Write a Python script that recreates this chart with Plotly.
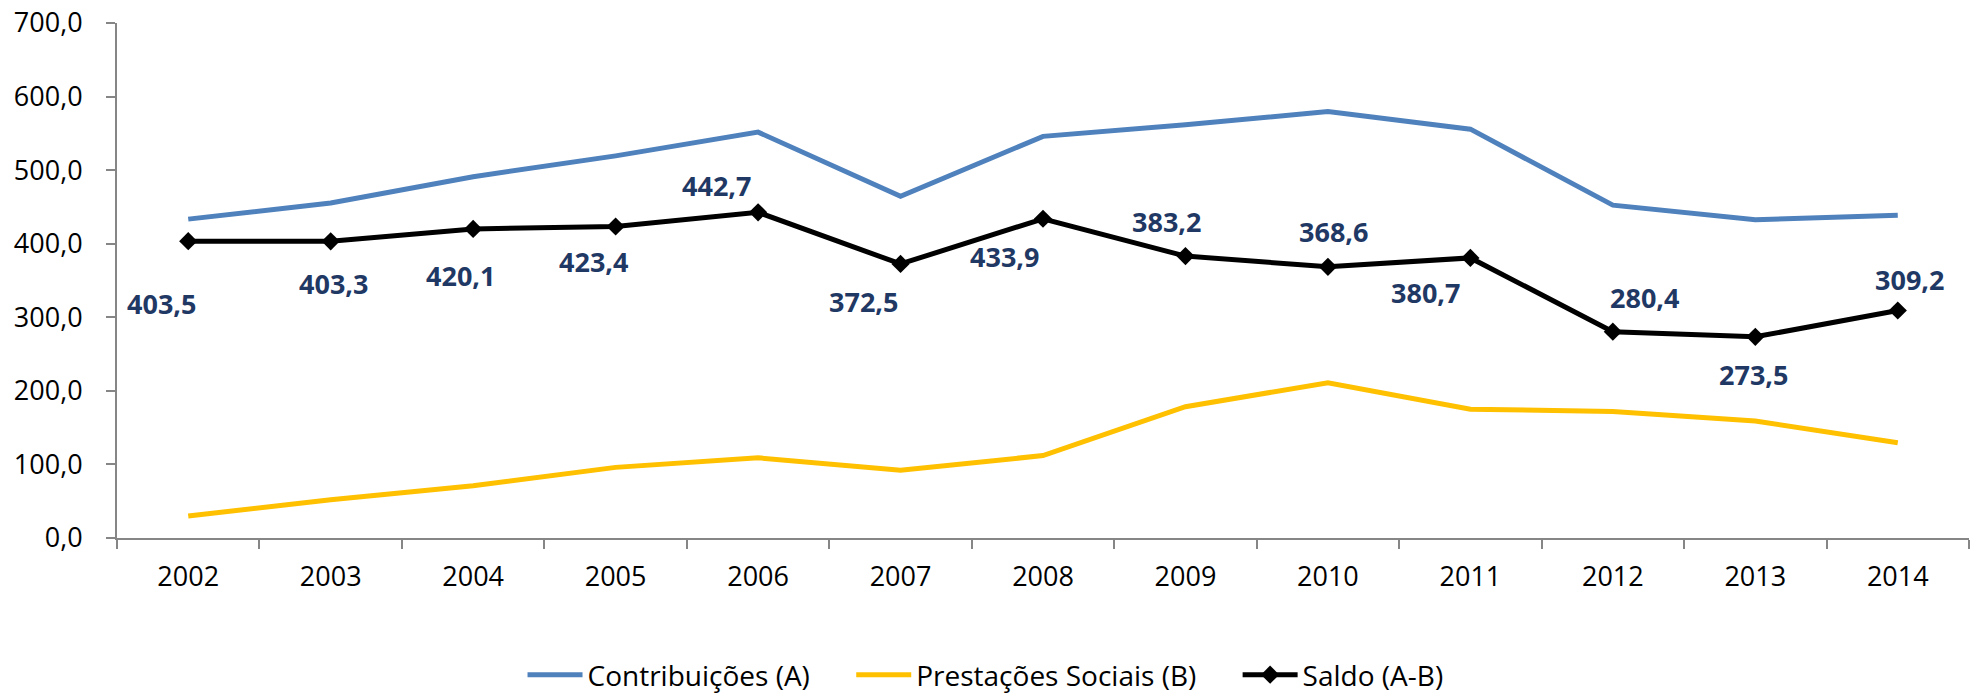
import plotly.graph_objects as go

years = ["2002", "2003", "2004", "2005", "2006", "2007", "2008",
         "2009", "2010", "2011", "2012", "2013", "2014"]
contribuicoes = [433.4, 455.3, 491.1, 519.4, 551.7, 464.5, 545.9,
                 561.7, 579.6, 555.7, 452.4, 432.5, 438.7]
prestacoes = [29.9, 52.0, 71.0, 96.0, 109.0, 92.0, 112.0,
              178.5, 211.0, 175.0, 172.0, 159.0, 129.5]
saldo = [403.5, 403.3, 420.1, 423.4, 442.7, 372.5, 433.9,
         383.2, 368.6, 380.7, 280.4, 273.5, 309.2]
saldo_labels = ["403,5", "403,3", "420,1", "423,4", "442,7", "372,5", "433,9",
                "383,2", "368,6", "380,7", "280,4", "273,5", "309,2"]
y_ticks = [0, 100, 200, 300, 400, 500, 600, 700]

# label offsets (pixels) relative to each Saldo point: (dx right, dy down)
label_dx = [-27, 3, -13, -22, -42, -37, -39, -19, 6, -45, 32, -2, 12]
label_dy = [62, 42, 47, 35, -27, 38, 38, -35, -35, 35, -34, 38, -31]

FONT = "Open Sans"
GAP = "\u00a0" * 5

fig = go.Figure()
fig.add_trace(go.Scatter(
    x=years, y=contribuicoes, mode="lines", name="Contribuições (A)" + GAP,
    line=dict(color="#4F81BD", width=5),
))
fig.add_trace(go.Scatter(
    x=years, y=prestacoes, mode="lines", name="Prestações Sociais (B)" + GAP,
    line=dict(color="#FFC000", width=5),
))
fig.add_trace(go.Scatter(
    x=years, y=saldo, mode="lines+markers", name="Saldo (A-B)",
    line=dict(color="#000000", width=5),
    marker=dict(symbol="diamond", size=14, color="#000000"),
))

for i, (v, t, dx, dy) in enumerate(zip(saldo, saldo_labels, label_dx, label_dy)):
    fig.add_annotation(
        x=i, y=v, xref="x", yref="y", text="<b>" + t + "</b>", showarrow=False,
        xshift=dx, yshift=-dy,
        font=dict(family=FONT, size=27, color="#1F3864"),
    )

fig.update_layout(
    width=1975, height=693,
    margin=dict(l=117, r=6, t=23, b=155, autoexpand=False),
    paper_bgcolor="white", plot_bgcolor="white",
    separators=",.",
    font=dict(family=FONT, size=27, color="#000000"),
    showlegend=True,
    legend=dict(
        orientation="h", xref="container", yref="container",
        x=0.499, xanchor="center", y=0.026, yanchor="middle",
        font=dict(family=FONT, size=28, color="#000000"),
        itemwidth=55,
    ),
    xaxis=dict(
        type="category", showgrid=False, zeroline=False, automargin=False,
        showline=True, linecolor="#868686", linewidth=2,
        ticks="outside", ticklen=9, tickwidth=2, tickcolor="#868686",
        tickson="boundaries", ticklabelstandoff=14,
        tickfont=dict(family=FONT, size=27, color="#000000"),
        range=[-0.5, 12.5],
    ),
    yaxis=dict(
        range=[0, 700], tickvals=y_ticks, tickformat=".1f", automargin=False,
        showgrid=False, zeroline=False, ticklabeloverflow="allow",
        showline=True, linecolor="#868686", linewidth=2,
        ticks="outside", ticklen=9, tickwidth=2, tickcolor="#868686",
        ticklabelstandoff=18,
        tickfont=dict(family=FONT, size=27, color="#000000"),
    ),
)

fig.write_html(
    "out.html",
    config={"displayModeBar": False},
    post_script="document.body.style.margin='0';document.body.style.overflow='hidden';",
)
